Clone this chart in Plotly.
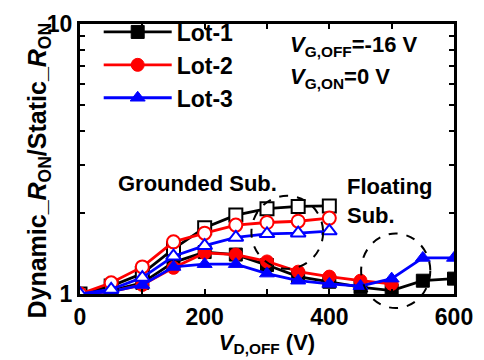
import plotly.graph_objects as go
import math

# ---- data ----
x_grounded = [0, 50, 100, 150, 200, 250, 300, 350, 400]
lot1_grounded = [1.00, 1.07, 1.19, 1.47, 1.76, 1.96, 2.07, 2.11, 2.12]
lot2_grounded = [1.00, 1.10, 1.26, 1.56, 1.68, 1.80, 1.84, 1.86, 1.91]
lot3_grounded = [1.00, 1.04, 1.15, 1.38, 1.51, 1.62, 1.67, 1.68, 1.71]

x_lot1 = [0, 50, 100, 150, 200, 250, 300, 350, 400, 450, 500, 550, 600]
lot1_floating = [1.00, 1.03, 1.10, 1.31, 1.43, 1.40, 1.28, 1.16, 1.11, 1.06, 1.03, 1.12, 1.14]
x_lot2 = [0, 50, 100, 150, 200, 250, 300, 350, 400, 450, 500]
lot2_floating = [1.00, 1.02, 1.08, 1.25, 1.42, 1.40, 1.32, 1.21, 1.16, 1.12, 1.09]
x_lot3 = [0, 50, 100, 150, 200, 250, 300, 350, 400, 450, 500, 550, 600]
lot3_floating = [1.00, 1.02, 1.08, 1.26, 1.29, 1.29, 1.19, 1.12, 1.09, 1.07, 1.14, 1.36, 1.36]

names = ["Lot-1", "Lot-2", "Lot-3"]
colors = ["black", "red", "blue"]
symbols = ["square", "circle", "triangle-up"]

x_ticks = [0, 100, 200, 300, 400, 500, 600]
x_ticktext = ["0", "", "200", "", "400", "", "600"]
y_ticks = [1, 2, 3, 4, 5, 6, 7, 8, 9, 10]
y_ticktext = ["1", "", "", "", "", "", "", "", "", "10"]

FONT = "Liberation Sans, Arial, sans-serif"
XMAX = 600.0

fig = go.Figure()

filled = [(x_lot1, lot1_floating), (x_lot2, lot2_floating), (x_lot3, lot3_floating)]
opened = [lot1_grounded, lot2_grounded, lot3_grounded]

for i in range(3):
    xs, ys = filled[i]
    fig.add_trace(go.Scatter(
        x=xs, y=ys, mode="lines+markers", name=names[i],
        line=dict(color=colors[i], width=2.8),
        marker=dict(symbol=symbols[i], size=13, color=colors[i],
                    line=dict(color=colors[i], width=1)),
        showlegend=True))

for i in range(3):
    fig.add_trace(go.Scatter(
        x=x_grounded, y=opened[i], mode="lines+markers", name=names[i] + " grounded",
        line=dict(color=colors[i], width=2.8),
        marker=dict(symbol=symbols[i], size=13, color="white",
                    line=dict(color=colors[i], width=2)),
        showlegend=False))

def xf(v):
    return v / XMAX

def yf(v):
    return math.log10(v)

# dashed ellipses (grounded / floating groups)
fig.add_shape(type="circle", xref="x domain", yref="y domain",
              x0=xf(275), x1=xf(390), y0=yf(1.24), y1=yf(2.31),
              line=dict(color="black", width=2, dash="dash"))
fig.add_shape(type="circle", xref="x domain", yref="y domain",
              x0=xf(451), x1=xf(562), y0=-0.052, y1=0.224,
              line=dict(color="black", width=2, dash="dash"))

ann_font = dict(family=FONT, size=22, color="black")
fig.add_annotation(xref="paper", yref="paper", x=0.315, y=0.41, text="<b>Grounded Sub.</b>",
                   showarrow=False, font=ann_font, xanchor="center", yanchor="middle")
fig.add_annotation(xref="paper", yref="paper", x=0.709, y=0.343, text="<b>Floating<br>Sub.</b>",
                   showarrow=False, font=ann_font, xanchor="left", yanchor="middle", align="left")
fig.add_annotation(xref="paper", yref="paper", x=0.557, y=0.92,
                   text="<b><i>V</i><sub>G,OFF</sub>=-16 V</b>",
                   showarrow=False, font=ann_font, xanchor="left", yanchor="middle")
fig.add_annotation(xref="paper", yref="paper", x=0.557, y=0.80,
                   text="<b><i>V</i><sub>G,ON</sub>=0 V</b>",
                   showarrow=False, font=ann_font, xanchor="left", yanchor="middle")
# y-axis title as rotated text
fig.add_annotation(xref="paper", yref="paper", x=-0.109, y=0.458,
                   text="<b>Dynamic_<i>R</i><sub>ON</sub>/Static_<i>R</i><sub>ON</sub></b>",
                   showarrow=False, textangle=-90,
                   font=dict(family=FONT, size=25, color="black"),
                   xanchor="center", yanchor="middle")

fig.update_layout(
    width=484, height=360,
    margin=dict(l=80, r=27, t=11, b=63),
    paper_bgcolor="white", plot_bgcolor="white",
    font=dict(family=FONT, size=22, color="black"),
    legend=dict(x=0.05, y=1.05, xanchor="left", yanchor="top",
                bgcolor="rgba(0,0,0,0)", itemwidth=68,
                font=dict(family=FONT, size=23, color="black", weight="bold")),
    xaxis=dict(range=[0, 600], tickvals=x_ticks, ticktext=x_ticktext,
               ticks="inside", ticklen=5, tickwidth=2, tickcolor="black",
               showline=True, linewidth=3, linecolor="black", mirror="ticks",
               showgrid=False, zeroline=False,
               tickfont=dict(family=FONT, size=23, color="black", weight="bold"),
               title=dict(text="<b><i>V</i><sub>D,OFF</sub> (V)</b>", standoff=4,
                          font=dict(family=FONT, size=22, color="black"))),
    yaxis=dict(type="log", range=[0, 1], tickvals=y_ticks, ticktext=y_ticktext,
               ticks="inside", ticklen=5, tickwidth=2, tickcolor="black",
               showline=True, linewidth=3, linecolor="black", mirror="ticks",
               showgrid=False, zeroline=False,
               tickfont=dict(family=FONT, size=23, color="black", weight="bold")),
)

fig.write_html("out.html")
